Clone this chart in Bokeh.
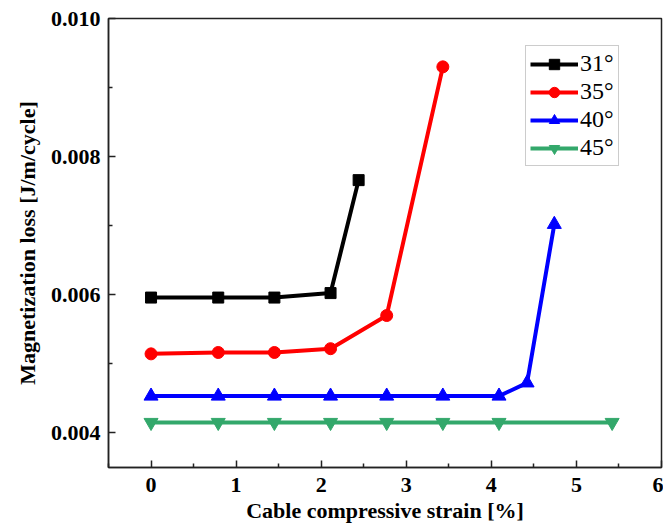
from bokeh.plotting import figure
from bokeh.models import FixedTicker, Range1d, Legend, LegendItem
from bokeh.embed import file_html
from bokeh.resources import INLINE

# ---- data ----
x31 = [0, 0.79, 1.45, 2.11, 2.44]
y31 = [0.00596, 0.00596, 0.00596, 0.006025, 0.00766]

x35 = [0, 0.79, 1.45, 2.11, 2.77, 3.43]
y35 = [0.005145, 0.005165, 0.005165, 0.00522, 0.0057, 0.0093]

x40 = [0, 0.79, 1.45, 2.11, 2.77, 3.43, 4.09, 4.42, 4.74]
y40 = [0.004534, 0.004534, 0.004534, 0.004534, 0.004534, 0.004534, 0.004534, 0.004725, 0.00702]

x45 = [0, 0.79, 1.45, 2.11, 2.77, 3.43, 4.09, 5.42]
y45 = [0.004152, 0.004152, 0.004152, 0.004152, 0.004152, 0.004152, 0.004152, 0.004152]

labels = ["31°", "35°", "40°", "45°"]
x_ticks = [0, 1, 2, 3, 4, 5, 6]
y_ticks = [0.004, 0.006, 0.008, 0.010]

FONT = "Liberation Serif"

p = figure(width=663, height=525, output_backend="svg", toolbar_location=None,
           x_range=Range1d(-0.5, 6.0), y_range=Range1d(0.0035, 0.010),
           min_border_left=108, min_border_right=2, min_border_top=18, min_border_bottom=20)
p.background_fill_color = "white"
p.border_fill_color = "white"
p.grid.visible = False
p.outline_line_color = "#222222"
p.outline_line_width = 1.5

p.xaxis.ticker = FixedTicker(ticks=x_ticks, minor_ticks=[-0.5, 0.5, 1.5, 2.5, 3.5, 4.5, 5.5])
p.yaxis.ticker = FixedTicker(ticks=y_ticks, minor_ticks=[0.005, 0.007, 0.009])
p.yaxis.major_label_overrides = {t: f"{t:.3f}" for t in y_ticks}
p.xaxis.major_label_overrides = {t: str(t) for t in x_ticks}

for ax in (p.xaxis[0], p.yaxis[0]):
    ax.major_tick_in = 7
    ax.major_tick_out = 0
    ax.minor_tick_in = 4
    ax.minor_tick_out = 0
    ax.axis_line_width = 1.5
    ax.axis_line_color = "#222222"
    ax.major_tick_line_width = 1.5
    ax.minor_tick_line_width = 1.5
    ax.major_tick_line_color = "#222222"
    ax.minor_tick_line_color = "#222222"
    ax.major_label_text_font = FONT
    ax.major_label_text_font_style = "bold"
    ax.major_label_text_font_size = "22px"
    ax.major_label_text_color = "black"
    ax.axis_label_text_font = FONT
    ax.axis_label_text_font_style = "bold"
    ax.axis_label_text_font_size = "22px"
    ax.axis_label_text_color = "black"

p.xaxis.axis_label = "Cable compressive strain [%]"
p.yaxis.axis_label = "Magnetization loss [J/m/cycle]"
p.xaxis.major_label_standoff = 10
p.xaxis.axis_label_standoff = 3
p.yaxis.major_label_standoff = 8
p.yaxis.axis_label_standoff = 8

series = [
    (x31, y31, "black", "square", 11),
    (x35, y35, "#FF0000", "circle", 12),
    (x40, y40, "#0000FF", "triangle", 14),
    (x45, y45, "#33A86B", "inverted_triangle", 14),
]

items = []
for (xs, ys, color, marker, size), lab in zip(series, labels):
    l = p.line(xs, ys, line_color=color, line_width=4)
    s = p.scatter(xs, ys, marker=marker, size=size, fill_color=color, line_color=color)
    items.append(LegendItem(label=lab, renderers=[l, s]))

legend = Legend(items=items, location=(417, 301))
legend.label_text_font = FONT
legend.label_text_font_style = "normal"
legend.label_text_font_size = "24px"
legend.label_text_color = "black"
legend.glyph_width = 48
legend.glyph_height = 26
legend.label_height = 26
legend.spacing = 1
legend.padding = 4
legend.label_standoff = 2
legend.margin = 0
legend.border_line_color = "#999999"
legend.border_line_width = 1.5
legend.background_fill_alpha = 1
p.add_layout(legend)

open("out.html", "w").write(file_html(p, INLINE))
